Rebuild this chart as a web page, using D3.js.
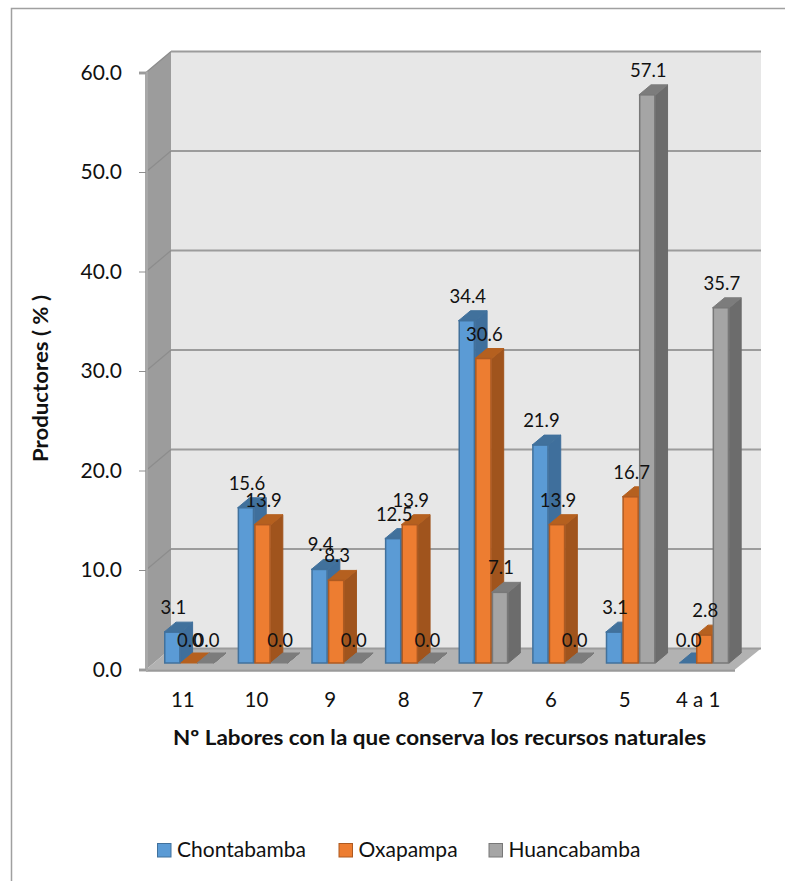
<!DOCTYPE html>
<html><head><meta charset="utf-8">
<script src="https://cdn.jsdelivr.net/npm/d3@7"></script>
<style>html,body{margin:0;padding:0;background:#fff}svg{display:block}text{font-family:Lato,sans-serif;fill:#111}</style>
</head><body><div id="c"></div>
<script>
const categories = ["11","10","9","8","7","6","5","4 a 1"];
const seriesNames = ["Chontabamba","Oxapampa","Huancabamba"];
const chontabamba = [3.1,15.6,9.4,12.5,34.4,21.9,3.1,0.0];
const oxapampa = [0.0,13.9,8.3,13.9,30.6,13.9,16.7,2.8];
const huancabamba = [0.0,0.0,0.0,0.0,7.1,0.0,57.1,35.7];
const yTicks = [0,10,20,30,40,50,60];
const seriesValues = [chontabamba,oxapampa,huancabamba];
const palette = [
 {front:"#5b9bd5",edge:"#41719c",side:"#3f6f9c",top:"#41719c"},
 {front:"#ed7d31",edge:"#ae5a21",side:"#a0541d",top:"#b5601f"},
 {front:"#a5a5a5",edge:"#787878",side:"#6c6c6c",top:"#7c7c7c"}];
const W=785,H=881;
const svg=d3.select("#c").append("svg").attr("width",W).attr("height",H);
svg.append("rect").attr("x",11.5).attr("y",8.5).attr("width",800).attr("height",900).attr("fill","#fff").attr("stroke","#a0a0a0").attr("stroke-width",1.5);
const y=d3.scaleLinear().domain([0,60]).range([669.5,72.5]);
const x=d3.scaleBand().domain(categories).range([146,735]);
const depthX=25,depthY=-21, barDX=12, barDY=-10, baseShift=-6.5, groupOff=18;
const inner=d3.scaleBand().domain(d3.range(3)).range([0,49.8]);
const k=d3.line();
const poly=(pts,fill,stroke)=>svg.append("path").attr("d",k(pts)+"Z").attr("fill",fill).attr("stroke",stroke||"none");
// walls
const bx0=146+depthX, bx1=735+26;
poly([[bx0,y(60)+depthY],[bx1,y(60)+depthY],[bx1,y(0)+depthY],[bx0,y(0)+depthY]],"#e7e7e7");
poly([[146,y(60)],[bx0,y(60)+depthY],[bx0,y(0)+depthY],[146,y(0)]],"#9c9c9c");
poly([[146,y(0)],[bx0,y(0)+depthY],[bx1,y(0)+depthY],[735,y(0)]],"#b2b2b2");
// floor front edge
svg.append("path").attr("d",k([[146,y(0)+1],[735,y(0)+1]])).attr("stroke","#9a9a9a").attr("stroke-width",2.5).attr("fill","none");
// gridlines
yTicks.forEach(t=>{
 if(t>0) svg.append("path").attr("d",k([[146,y(t)],[bx0,y(t)+depthY]])).attr("stroke","#8c8c8c").attr("stroke-width",1.2).attr("fill","none");
 svg.append("path").attr("d",k([[bx0,y(t)+depthY],[bx1,y(t)+depthY]])).attr("stroke","#9c9c9c").attr("stroke-width",2).attr("fill","none");
});
// axes
const ya=svg.append("g").attr("transform","translate(146,0)").call(d3.axisLeft(y).tickValues(yTicks).tickFormat(d3.format(".1f")).tickSize(7).tickPadding(17));
ya.select(".domain").attr("stroke","#a8a8a8").attr("stroke-width",3);
ya.selectAll(".tick line").attr("stroke","#8f8f8f");
ya.selectAll("text").style("font-size","21px").style("font-family","Lato").attr("fill","#111");
const xa=svg.append("g").attr("transform","translate(0,682)").call(d3.axisBottom(x).tickSize(0).tickPadding(10));
xa.select(".domain").remove();
xa.selectAll("text").style("font-size","20.5px").style("font-family","Lato").attr("fill","#111");
// bars
const labels=[];
categories.forEach((c,i)=>{
 const gx=x(c)+groupOff;
 seriesValues.forEach((vals,s)=>{
  const v=vals[i],p=palette[s],a=gx+inner(s),b=a+inner.bandwidth();
  const base=y(0)+baseShift,top=y(v)+baseShift;
  poly([[b,top],[b+barDX,top+barDY],[b+barDX,base+barDY],[b,base]],p.side,p.side);
  poly([[a,top],[a+barDX,top+barDY],[b+barDX,top+barDY],[b,top]],p.top,p.top);
  if(v>0) svg.append("rect").attr("x",a+.75).attr("y",top).attr("width",b-a-1.5).attr("height",base-top).attr("fill",p.front).attr("stroke",p.edge).attr("stroke-width",1.5);
  labels.push({x:(a+b)/2+1,y:top-(v>0?18:16),t:d3.format(".1f")(v)});
 });
});
svg.selectAll("text.dl").data(labels).join("text").attr("class","dl").attr("x",d=>d.x).attr("y",d=>d.y).attr("text-anchor","middle").style("font-size","18.5px").text(d=>d.t);
// titles
svg.append("text").attr("x",439.5).attr("y",745).attr("text-anchor","middle").attr("textLength",533).attr("lengthAdjust","spacingAndGlyphs").style("font-size","20.5px").style("font-weight","700").text("Nº Labores con la que conserva los recursos naturales");
svg.append("text").attr("transform","translate(48,378.5) rotate(-90)").attr("text-anchor","middle").attr("textLength",167).attr("lengthAdjust","spacingAndGlyphs").style("font-size","20.5px").style("font-weight","700").text("Productores ( % )");
// legend
const lx=[157.5,339,489];
seriesNames.forEach((n,s)=>{
 svg.append("rect").attr("x",lx[s]).attr("y",843.5).attr("width",13.5).attr("height",13.5).attr("fill",palette[s].front).attr("stroke",palette[s].edge);
 svg.append("text").attr("x",lx[s]+19.5).attr("y",857).style("font-size","21px").text(n);
});
</script></body></html>
